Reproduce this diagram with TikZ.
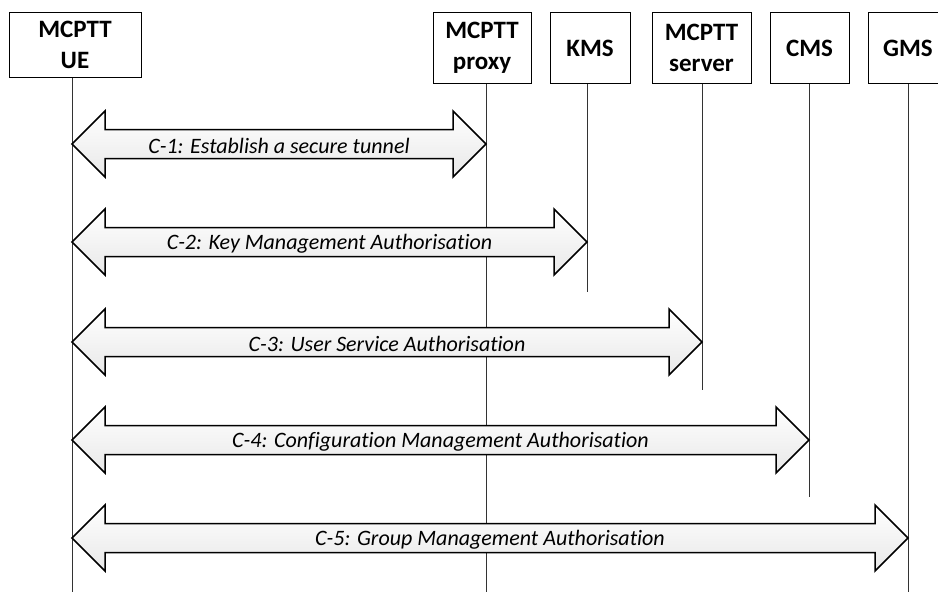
\documentclass[tikz,border=0pt]{standalone}
\usepackage{fontspec}
\setmainfont{Carlito}[Ligatures={NoCommon,NoRare}]
\usetikzlibrary{calc}
\newcommand{\blockarrow}[3]{%
  \draw[barrow] (#1) -- ([shift={(33,-33)}]#1) -- ([shift={(33,-14.5)}]#1)
    -- ([shift={(-33,-14.5)}]#2) -- ([shift={(-33,-33)}]#2) -- (#2)
    -- ([shift={(-33,33)}]#2) -- ([shift={(-33,14.5)}]#2)
    -- ([shift={(33,14.5)}]#1) -- ([shift={(33,33)}]#1) -- cycle;
  \node[lbl] at ($(#1)!0.5!(#2)+(0,1.5)$) {#3};}
\begin{document}
\begin{tikzpicture}[x=1pt,y=-1pt,
  ent/.style={draw=black, line width=1pt, minimum height=71pt, inner sep=0pt,
    align=center, font=\fontsize{25}{31}\selectfont\bfseries, anchor=north},
  life/.style={draw=black!80, line width=1pt},
  barrow/.style={draw=black, line width=1.5pt, line join=miter,
    top color=white, bottom color=black!9},
  lbl/.style={font=\fontsize{22}{26}\selectfont\itshape, inner sep=0pt}]
\useasboundingbox (0,0) rectangle (938,592);
% entities
\node[ent, minimum width=132pt, minimum height=65pt] (ue) at (75,12) {MCPTT\\UE};
\node[ent, minimum width=98pt] (proxy) at (482,12) {MCPTT\\proxy};
\node[ent, minimum width=80pt] (kms) at (590,12) {KMS};
\node[ent, minimum width=99pt] (server) at (701.5,12) {MCPTT\\server};
\node[ent, minimum width=79pt] (cms) at (809.5,12) {CMS};
\node[ent, minimum width=80pt] (gms) at (908,12) {GMS};
% lifeline ends
\coordinate (ueend) at (72,592);
\coordinate (proxyend) at (486,592);
\coordinate (kmsend) at (587,292);
\coordinate (serverend) at (702,390);
\coordinate (cmsend) at (809,497);
\coordinate (gmsend) at (908,592);
\draw[life] (ue.south -| ueend) -- (ueend);
\draw[life] (proxy.south -| proxyend) -- (proxyend);
\draw[life] (kms.south -| kmsend) -- (kmsend);
\draw[life] (server.south -| serverend) -- (serverend);
\draw[life] (cms.south -| cmsend) -- (cmsend);
\draw[life] (gms.south -| gmsend) -- (gmsend);
% arrow ends on lifelines
\coordinate (c1a) at (72,144);  \coordinate (c1b) at (486,144);
\coordinate (c2a) at (72,242);  \coordinate (c2b) at (587,242);
\coordinate (c3a) at (72,342);  \coordinate (c3b) at (702,342);
\coordinate (c4a) at (72,440);  \coordinate (c4b) at (809,440);
\coordinate (c5a) at (72,538);  \coordinate (c5b) at (908,538);
\blockarrow{c1a}{c1b}{C-1: Establish a secure tunnel}
\blockarrow{c2a}{c2b}{C-2: Key Management Authorisation}
\blockarrow{c3a}{c3b}{C-3: User Service Authorisation}
\blockarrow{c4a}{c4b}{C-4: Configuration Management Authorisation}
\blockarrow{c5a}{c5b}{C-5: Group Management Authorisation}
\end{tikzpicture}
\end{document}
